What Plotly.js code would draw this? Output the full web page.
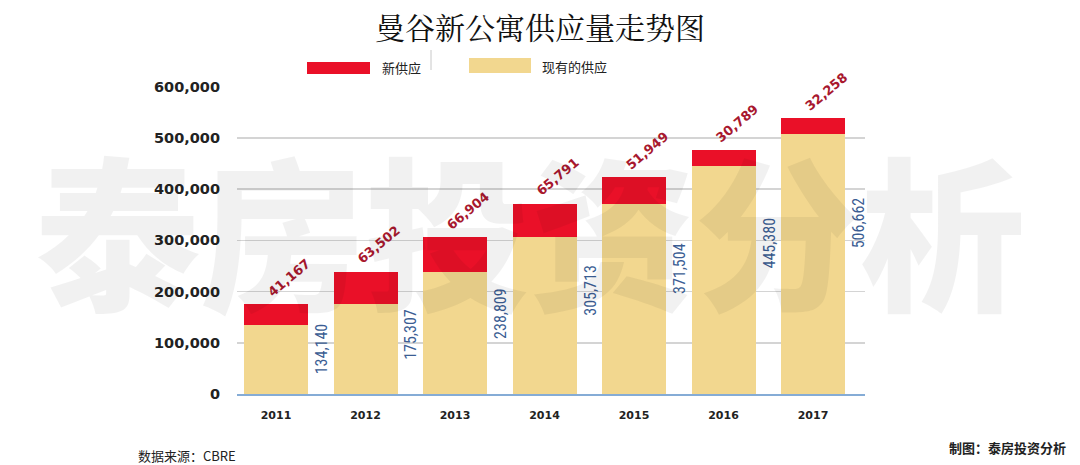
<!DOCTYPE html>
<html>
<head>
<meta charset="utf-8">
<script src="https://cdn.plot.ly/plotly-3.0.1.min.js"></script>
<style>
  html, body { margin: 0; padding: 0; background: #fff; }
  #chart { width: 1080px; height: 465px; }
</style>
</head>
<body>
<div id="chart"></div>
<script>
const years = ["2011", "2012", "2013", "2014", "2015", "2016", "2017"];
const existingSupply = [134140, 175307, 238809, 305713, 371504, 445380, 506662];
const newSupply = [41167, 63502, 66904, 65791, 51949, 30789, 32258];
const yTickVals = [0, 100000, 200000, 300000, 400000, 500000, 600000];
const yTickText = ["0", "100,000", "200,000", "300,000", "400,000", "500,000", "600,000"];

const RED = "#ea1028";
const YELLOW = "#f2d78f";
const fmt = (v) => v.toLocaleString("en-US");

// plot area in pixels: x 237..865, y 86..394
const toPaperX = (px) => (px - 237) / 628;
const toPaperY = (py) => (394 - py) / 308;

const xIdx = years.map((y, i) => i);

const plotData = [
  {
    type: "bar",
    name: "现有的供应",
    x: xIdx,
    y: existingSupply,
    marker: { color: YELLOW, line: { width: 0 } },
    hoverinfo: "skip",
  },
  {
    type: "bar",
    name: "新供应",
    x: xIdx,
    y: newSupply,
    marker: { color: RED, line: { width: 0 } },
    hoverinfo: "skip",
  },
];

const annotations = [];

// red labels above each stack
newSupply.forEach((v, i) => {
  annotations.push({
    x: i + 0.15,
    y: existingSupply[i] + v,
    xref: "x",
    yref: "y",
    text: fmt(v),
    showarrow: false,
    textangle: -40,
    xanchor: "center",
    yanchor: "bottom",
    yshift: 2,
    font: { family: "DejaVu Sans", size: 13, weight: 700, color: "#a8182e" },
  });
});

// blue vertical labels beside each bar
existingSupply.forEach((v, i) => {
  annotations.push({
    x: i + 0.51,
    y: v * 0.66,
    xref: "x",
    yref: "y",
    text: fmt(v),
    showarrow: false,
    textangle: -90,
    xanchor: "center",
    yanchor: "middle",
    font: { family: "Liberation Sans Narrow, Roboto Condensed, Liberation Sans, sans-serif", size: 16, color: "#3b5d93" },
  });
});

// watermark
annotations.push({
  x: toPaperX(530),
  y: toPaperY(226),
  xref: "paper",
  yref: "paper",
  text: "泰房投资分析",
  showarrow: false,
  xanchor: "center",
  yanchor: "middle",
  font: { family: "Noto Sans CJK SC", size: 165, weight: 900, color: "rgba(0,0,0,0.055)" },
});

// legend texts
annotations.push({
  x: toPaperX(380), y: toPaperY(68), xref: "paper", yref: "paper",
  text: "新供应", showarrow: false, xanchor: "left", yanchor: "middle",
  font: { family: "Noto Sans CJK SC", size: 13, color: "#222" },
});
annotations.push({
  x: toPaperX(540), y: toPaperY(67), xref: "paper", yref: "paper",
  text: "现有的供应", showarrow: false, xanchor: "left", yanchor: "middle",
  font: { family: "Noto Sans CJK SC", size: 13, color: "#222" },
});

// footers
annotations.push({
  x: toPaperX(136), y: toPaperY(455), xref: "paper", yref: "paper",
  text: "数据来源：CBRE", showarrow: false, xanchor: "left", yanchor: "middle",
  font: { family: "Noto Sans CJK SC", size: 13, color: "#222" },
});
annotations.push({
  x: toPaperX(1068), y: toPaperY(447), xref: "paper", yref: "paper",
  text: "制图：泰房投资分析", showarrow: false, xanchor: "right", yanchor: "middle",
  font: { family: "Noto Sans CJK SC", size: 13, weight: 700, color: "#222" },
});

const shapes = [
  {
    type: "rect", xref: "paper", yref: "paper",
    x0: toPaperX(307), x1: toPaperX(370), y0: toPaperY(74), y1: toPaperY(62),
    fillcolor: RED, line: { width: 0 },
  },
  {
    type: "rect", xref: "paper", yref: "paper",
    x0: toPaperX(469), x1: toPaperX(531), y0: toPaperY(73), y1: toPaperY(58),
    fillcolor: YELLOW, line: { width: 0 },
  },
  {
    type: "line", xref: "paper", yref: "paper",
    x0: toPaperX(431), x1: toPaperX(431), y0: toPaperY(70), y1: toPaperY(50),
    line: { color: "#c8c8c8", width: 1 },
  },
];

const layout = {
  width: 1080,
  height: 465,
  paper_bgcolor: "#ffffff",
  plot_bgcolor: "#ffffff",
  margin: { l: 237, r: 215, t: 86, b: 71, pad: 0 },
  title: {
    text: "曼谷新公寓供应量走势图",
    x: 0.5,
    xanchor: "center",
    y: 1 - 28 / 465,
    yanchor: "middle",
    font: { family: "Noto Serif CJK SC, Noto Sans CJK SC", size: 30, color: "#111" },
  },
  barmode: "stack",
  bargap: 0.285,
  showlegend: false,
  xaxis: {
    range: [-0.436, 6.581],
    tickvals: xIdx,
    ticktext: years,
    ticks: "",
    showgrid: false,
    zeroline: false,
    showline: true,
    linecolor: "#85acd6",
    linewidth: 2,
    ticklabelstandoff: 10,
    tickfont: { family: "DejaVu Sans", size: 11, weight: 700, color: "#222" },
  },
  yaxis: {
    range: [0, 601000],
    tickvals: yTickVals,
    ticktext: yTickText,
    ticks: "",
    showgrid: true,
    gridcolor: "#d4d4d4",
    gridwidth: 1.5,
    zeroline: false,
    showline: false,
    ticklabelstandoff: 16,
    tickfont: { family: "DejaVu Sans", size: 14.5, weight: 700, color: "#222" },
  },
  annotations: annotations,
  shapes: shapes,
};

Plotly.newPlot(document.getElementById("chart"), plotData, layout, {
  displayModeBar: false,
  staticPlot: true,
});
</script>
</body>
</html>
